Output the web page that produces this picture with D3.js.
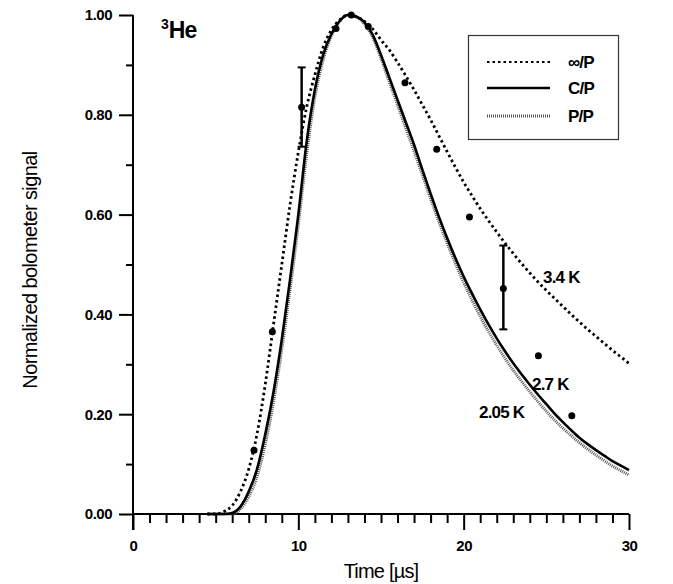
<!DOCTYPE html>
<html lang="en">
<head>
    <meta charset="UTF-8">
    <title>3He bolometer signal</title>
    <script src="https://cdn.jsdelivr.net/npm/d3@7"></script>
    <style>
        body { margin: 0; background: #fff; }
        svg { display: block; font-family: "Liberation Sans", Arial, sans-serif; }
        .tick-label { font-size: 15px; font-weight: bold; letter-spacing: -0.5px; }
        .curve-label { font-size: 17px; font-weight: bold; letter-spacing: -0.8px; }
    </style>
</head>
<body>
<script>
    // time axis of the three model curves [µs]
    const times = [4.5, 5, 5.5, 6, 6.5, 7, 7.5, 8, 8.5, 9, 9.5, 10, 10.5, 11, 11.5, 12, 12.5, 13, 13.5,
        14, 14.5, 15, 15.5, 16, 16.5, 17, 17.5, 18, 18.5, 19, 19.5, 20, 20.5, 21, 21.5, 22, 22.5,
        23, 23.5, 24, 24.5, 25, 25.5, 26, 26.5, 27, 27.5, 28, 28.5, 29, 29.5, 30];

    // ∞/P, 3.4 K (dotted)
    const infP = [0, 0, 0.005, 0.017, 0.045, 0.09, 0.16, 0.26, 0.38, 0.5, 0.62, 0.725, 0.815, 0.88, 0.935,
        0.97, 0.99, 1.0, 0.997, 0.987, 0.972, 0.95, 0.93, 0.905, 0.878, 0.85, 0.82, 0.79, 0.758,
        0.726, 0.695, 0.665, 0.638, 0.612, 0.588, 0.565, 0.543, 0.522, 0.502, 0.483, 0.465, 0.448,
        0.432, 0.416, 0.4, 0.385, 0.37, 0.356, 0.342, 0.328, 0.315, 0.302];

    // C/P, 2.7 K (solid)
    const cP = [0, 0, 0, 0.002, 0.015, 0.045, 0.09, 0.16, 0.245, 0.35, 0.47, 0.6, 0.745, 0.85, 0.92,
        0.962, 0.988, 1.0, 0.997, 0.985, 0.96, 0.92, 0.875, 0.83, 0.785, 0.74, 0.69, 0.642, 0.596,
        0.553, 0.513, 0.476, 0.442, 0.41, 0.38, 0.352, 0.326, 0.302, 0.28, 0.259, 0.239, 0.22,
        0.201, 0.184, 0.168, 0.153, 0.14, 0.128, 0.117, 0.106, 0.097, 0.088];

    // P/P, 2.05 K (hatched)
    const pP = [0, 0, 0, 0, 0.01, 0.035, 0.075, 0.14, 0.225, 0.33, 0.45, 0.58, 0.72, 0.835, 0.91,
        0.958, 0.987, 1.0, 0.996, 0.982, 0.955, 0.913, 0.866, 0.82, 0.773, 0.727, 0.68, 0.632, 0.586,
        0.543, 0.502, 0.464, 0.429, 0.396, 0.366, 0.338, 0.312, 0.288, 0.266, 0.245, 0.225, 0.206,
        0.188, 0.172, 0.157, 0.143, 0.13, 0.118, 0.107, 0.096, 0.087, 0.078];

    // measured points
    const pointT = [7.32, 8.43, 10.2, 12.28, 13.2, 14.23, 16.45, 18.37, 20.35, 22.4, 24.52, 26.54];
    const pointV = [0.128, 0.365, 0.815, 0.973, 1.0, 0.977, 0.864, 0.731, 0.595, 0.452, 0.317, 0.197];

    // error bars
    const errT = [10.2, 22.4];
    const errLo = [0.736, 0.370];
    const errHi = [0.895, 0.538];

    const xMajor = [0, 10, 20, 30];
    const yMajor = [0, 0.2, 0.4, 0.6, 0.8, 1.0];
    const legendNames = ["\u221E/P", "C/P", "P/P"];
    const curveLabels = ["3.4 K", "2.7 K", "2.05 K"];

    const width = 673, height = 584;
    const svg = d3.select("body").append("svg").attr("width", width).attr("height", height);

    const x = d3.scaleLinear().domain([0, 30]).range([133, 629]);
    const y = d3.scaleLinear().domain([0, 1]).range([514, 15]);

    // axes
    const axisG = svg.append("g");
    axisG.append("g")
        .attr("transform", `translate(${x(0)},0)`)
        .call(d3.axisLeft(y).tickValues(d3.range(0.1, 1, 0.2)).tickSize(7).tickFormat(""));
    axisG.append("g")
        .attr("transform", `translate(${x(0)},0)`)
        .call(d3.axisLeft(y).tickValues(yMajor).tickSize(14).tickPadding(7).tickFormat(d3.format(".2f")));
    axisG.append("g")
        .attr("transform", `translate(0,${y(0)})`)
        .call(d3.axisBottom(x).tickValues(d3.range(1, 30).filter(d => d % 10 !== 0)).tickSize(9).tickFormat(""));
    axisG.append("g")
        .attr("transform", `translate(0,${y(0)})`)
        .call(d3.axisBottom(x).tickValues(xMajor).tickSize(16).tickPadding(10).tickFormat(d3.format("d")));

    axisG.selectAll(".domain").remove();
    axisG.selectAll(".tick line").attr("stroke", "#000").attr("stroke-width", 2);
    axisG.selectAll(".tick text").attr("class", "tick-label").attr("fill", "#000");

    // axis lines
    svg.append("line").attr("x1", x(0)).attr("x2", x(0)).attr("y1", y(1)).attr("y2", y(0) + 16)
        .attr("stroke", "#000").attr("stroke-width", 2);
    svg.append("line").attr("x1", x(0)).attr("x2", x(30)).attr("y1", y(0)).attr("y2", y(0))
        .attr("stroke", "#000").attr("stroke-width", 2);

    // axis titles
    svg.append("text").attr("x", 381).attr("y", 578).attr("text-anchor", "middle")
        .style("font-size", "20px").style("letter-spacing", "-0.8px").text("Time [\u00B5s]");
    svg.append("text").attr("transform", "translate(37,270) rotate(-90)").attr("text-anchor", "middle")
        .style("font-size", "20px").style("letter-spacing", "-0.6px").text("Normalized bolometer signal");

    // 3He
    const he = svg.append("text").attr("x", 161).attr("y", 38).style("font-weight", "bold").style("font-size", "23px");
    he.append("tspan").attr("dy", -9).style("font-size", "14px").text("3");
    he.append("tspan").attr("dy", 9).style("letter-spacing", "-1px").text("He");

    // curves
    const line = d3.line().x((d, i) => x(times[i])).y(d => y(d)).curve(d3.curveMonotoneX);
    const pStyle = sel => sel.attr("fill", "none").attr("stroke", "#555").attr("stroke-width", 3).attr("stroke-dasharray", "1,1");
    const cStyle = sel => sel.attr("fill", "none").attr("stroke", "#000").attr("stroke-width", 2.6);
    const iStyle = sel => sel.attr("fill", "none").attr("stroke", "#000").attr("stroke-width", 2.8).attr("stroke-dasharray", "2.5,3");

    svg.append("path").datum(pP).attr("d", line).call(pStyle);
    svg.append("path").datum(cP).attr("d", line).call(cStyle);
    svg.append("path").datum(infP).attr("d", line).call(iStyle);

    // error bars
    errT.forEach((t, i) => {
        const g = svg.append("g").attr("stroke", "#000");
        g.append("line").attr("x1", x(t)).attr("x2", x(t)).attr("y1", y(errLo[i])).attr("y2", y(errHi[i])).attr("stroke-width", 2.5);
        [errLo[i], errHi[i]].forEach(v => {
            g.append("line").attr("x1", x(t) - 4).attr("x2", x(t) + 4).attr("y1", y(v)).attr("y2", y(v)).attr("stroke-width", 2);
        });
    });

    // points
    svg.append("g").selectAll("circle").data(pointT).join("circle")
        .attr("cx", d => x(d)).attr("cy", (d, i) => y(pointV[i])).attr("r", 3.5).attr("fill", "#000");

    // curve labels
    const labelPos = [[543, 283], [532, 390], [479, 418]];
    svg.append("g").selectAll("text").data(curveLabels).join("text")
        .attr("class", "curve-label")
        .attr("x", (d, i) => labelPos[i][0]).attr("y", (d, i) => labelPos[i][1]).text(d => d);

    // legend
    const lg = svg.append("g");
    lg.append("rect").attr("x", 468.5).attr("y", 35.5).attr("width", 150).attr("height", 104)
        .attr("fill", "#fff").attr("stroke", "#333").attr("stroke-width", 1.2);
    const styles = [iStyle, cStyle, pStyle];
    const rowY = [62, 88, 116];
    legendNames.forEach((name, i) => {
        lg.append("line").attr("x1", 487).attr("x2", 550).attr("y1", rowY[i]).attr("y2", rowY[i]).call(styles[i]);
        lg.append("text").attr("x", 568).attr("y", rowY[i] + 6).style("font-size", "17px").style("font-weight", "bold")
            .style("letter-spacing", "-0.8px").text(name);
    });
    lg.select("line").attr("stroke-width", 2);
</script>
</body>
</html>
